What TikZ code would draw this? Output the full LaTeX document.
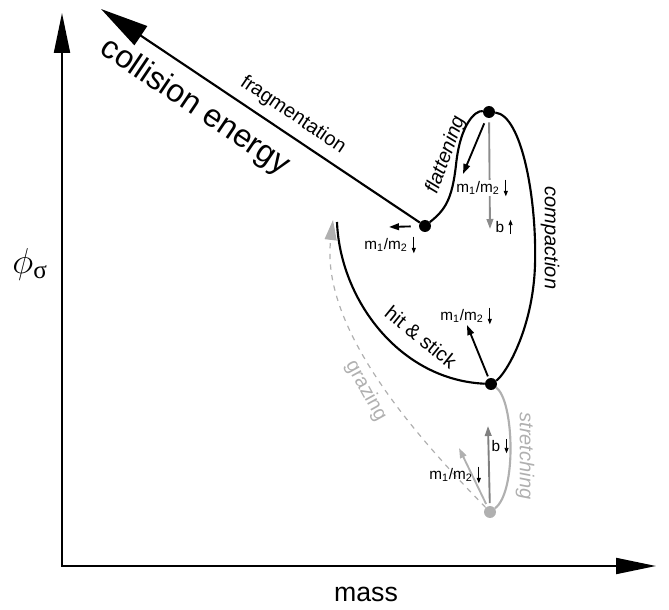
\RequirePackage{fix-cm}
\documentclass[tikz,border=0pt]{standalone}
\usepackage{fontspec}
\setmainfont{Liberation Sans}
\newfontfamily\greekserif{Liberation Serif}
\usetikzlibrary{arrows.meta}

\definecolor{lightgrey}{RGB}{176,176,176}
\definecolor{midgrey}{RGB}{140,140,140}

\tikzset{
  dot/.style={circle, fill, inner sep=0pt, minimum size=9pt},
  axis/.style={line width=1.5pt, {Triangle[length=30pt,width=12pt]}-{Triangle[length=30pt,width=12pt]}},
  process/.style={line width=1.6pt},
  vec/.style={line width=1.4pt, -{Triangle[length=7.5pt,width=5pt]}},
  trend/.style={line width=0.6pt, -{Triangle[length=4pt,width=3pt]}},
  ratio/.style={font=\fontsize{11.5}{13}\selectfont, inner sep=1pt},
  curvelabel/.style={font=\fontsize{15}{18}\selectfont, inner sep=0.75pt},
  slantlabel/.style={font=\fontsize{15}{18}\selectfont\itshape, inner sep=0.75pt},
}

\begin{document}
\begin{tikzpicture}[x=0.75pt,y=0.75pt,yscale=-1]
\useasboundingbox (0,0) rectangle (669,610);

%Axes
\coordinate (origin) at (62,566);
\coordinate (massend) at (656,566);
\coordinate (phiend) at (62,13);
\draw [axis] (massend) -- (origin) -- (phiend);

%States
\node [dot] (frag) at (425,226) {};
\node [dot] (flat) at (489,112) {};
\node [dot] (stick) at (491,384) {};
\node [dot, fill=lightgrey] (graze) at (490,512) {};

%Fragmentation / collision energy
\coordinate (energytip) at (101,9);
\draw [process, -{Triangle[length=36pt,width=17pt]}] (frag) -- (energytip);
%Flattening
\draw [process] (frag) .. controls (445,210) and (452,200) .. (456,165) .. controls (460,125) and (475,110) .. (flat);
%Compaction
\draw [process] (flat) .. controls (522,115) and (537,200) .. (535,265) .. controls (533,330) and (505,375) .. (stick);
%Hit & stick
\coordinate (stickend) at (337,222);
\draw [process] (stickend) .. controls (340,300) and (400,380) .. (stick);
%Stretching
\draw [process, lightgrey] (stick) .. controls (514,400) and (517,492) .. (graze);
%Grazing
\coordinate (grazetip) at (333,220);
\draw [lightgrey, line width=0.9pt, dash pattern=on 4pt off 4pt, -{Triangle[length=15pt,width=9pt]}] (graze) .. controls (420,440) and (320,330) .. (grazetip);

%Vectors at the states
\coordinate (fragvec) at (389,227);
\draw [vec, shorten <=6pt] (frag) -- (fragvec);
\coordinate (flatvec) at (463,174);
\draw [vec, shorten <=4.5pt] (flat) -- (flatvec);
\coordinate (flatb) at (490,229);
\draw [vec, midgrey, shorten <=3pt] (flat) -- (flatb);
\coordinate (stickvec) at (467,325);
\draw [vec, shorten <=1.5pt] (stick) -- (stickvec);
\coordinate (grazeb) at (488,426);
\draw [vec, gray, shorten <=2pt] (graze) -- (grazeb);
\coordinate (grazevec) at (459,448);
\draw [vec, lightgrey, shorten <=2pt] (graze) -- (grazevec);

% Ratio labels
\node [ratio] (fragratio) at (386,245) {m\textsubscript{1}/m\textsubscript{2}};
\draw [trend] ([xshift=3.5pt]fragratio.north east) -- ([xshift=3.5pt]fragratio.south east);
\node [ratio, fill=white] (flatratio) at (478,188) {m\textsubscript{1}/m\textsubscript{2}};
\draw [trend] ([xshift=3.5pt]flatratio.north east) -- ([xshift=3.5pt]flatratio.south east);
\node [ratio] (flatbratio) at (500,227) {b};
\draw [trend] ([xshift=3.5pt]flatbratio.south east) -- ([xshift=3.5pt]flatbratio.north east);
\node [ratio] (stickratio) at (462,316) {m\textsubscript{1}/m\textsubscript{2}};
\draw [trend] ([xshift=3.5pt]stickratio.north east) -- ([xshift=3.5pt]stickratio.south east);
\node [ratio] (grazebratio) at (496,446) {b};
\draw [trend] ([xshift=3.5pt]grazebratio.north east) -- ([xshift=3.5pt]grazebratio.south east);
\node [ratio] (grazeratio) at (451,475) {m\textsubscript{1}/m\textsubscript{2}};
\draw [trend] ([xshift=3.5pt]grazeratio.north east) -- ([xshift=3.5pt]grazeratio.south east);

% Text Node
\node [font=\fontsize{24}{28}\selectfont, rotate=-34] (energylabel) at (195,107) {collision energy};
% Text Node
\node [curvelabel, rotate=-34] (fraglabel) at (293,115) {fragmentation};
% Text Node
\node [slantlabel, rotate=70] (flatlabel) at (446,155) {flattening};
% Text Node
\node [slantlabel, rotate=-90] (complabel) at (550,238) {compaction};
% Text Node
\node [curvelabel, rotate=-39] (sticklabel) at (421,337) {hit \& stick};
% Text Node
\node [curvelabel, lightgrey, rotate=-61] (grazelabel) at (366,391) {grazing};
% Text Node
\node [slantlabel, lightgrey, rotate=-90] (stretchlabel) at (525,456) {stretching};
% Text Node
\node [font=\fontsize{20}{24}\selectfont] (masslabel) at (366,594) {mass};
% Text Node
\node [font=\fontsize{27}{32}\selectfont] (philabel) at (30,264) {$\phi$\textsubscript{\greekserif σ}};

\end{tikzpicture}
\end{document}
